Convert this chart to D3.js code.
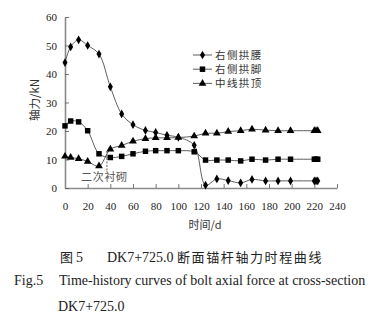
<!DOCTYPE html>
<html>
<head>
<meta charset="utf-8">
<script src="https://cdn.jsdelivr.net/npm/d3@7/dist/d3.min.js"></script>
<style>
  html, body { margin: 0; padding: 0; background: #fff; }
  svg { display: block; }
  .serif { font-family: "Liberation Serif", "DejaVu Serif", serif; }
  .cjk { font-family: "Noto Sans CJK SC", "Noto Sans", sans-serif; }
</style>
</head>
<body>
<svg id="chart" width="387" height="329"></svg>
<script>
// Monitoring days after excavation
const days = [0, 5, 12, 20, 30, 40, 50, 60, 71, 80, 90, 100, 114, 124, 134, 144, 155, 165, 177, 188, 199, 220, 221.5, 223];

// Bolt axial force (kN) at each monitoring point
const archWaist = [44, 49.5, 52, 50, 47, 35.5, 26, 22.2, 20.2, 19.5, 18.5, 17.8, 15, 1, 3.2, 2.6, 1.8, 3.0, 2.5, 2.5, 2.5, 2.5, 2.5, 2.5];
const archFoot  = [21.8, 23.5, 23.2, 20.1, 12, 10.7, 11.1, 12, 12.9, 13.1, 13.1, 13.1, 12.7, 9.8, 9.8, 9.8, 9.5, 10.1, 9.8, 10.1, 10.1, 10.1, 10.1, 10.1];
const archCrown = [11.1, 10.7, 10.3, 9.3, 7.7, 13.6, 14.9, 16.4, 17.3, 17.6, 17.6, 17.7, 18.2, 19.2, 19.2, 19.8, 20.1, 20.6, 20.3, 20.1, 20.1, 20.1, 20.1, 20.1];

const seriesNames = ["右侧拱腰", "右侧拱脚", "中线拱顶"];
const xTicks = [0, 20, 40, 60, 80, 100, 120, 140, 160, 180, 200, 220, 240];
const yTicks = [0, 10, 20, 30, 40, 50, 60];

const svg = d3.select("#chart");

const x = d3.scaleLinear().domain([0, 240]).range([65, 337]);
const y = d3.scaleLinear().domain([0, 60]).range([188, 17]);

// Axes with inward ticks
const axisColor = "#8a8a8a";
const serifFamily = '"Liberation Serif", "DejaVu Serif", serif';
const gx = svg.append("g").attr("transform", `translate(0,${y(0)})`)
  .call(d3.axisBottom(x).tickValues(xTicks).tickSizeInner(-4).tickSizeOuter(0).tickPadding(14));
const gy = svg.append("g").attr("transform", `translate(${x(0)},0)`)
  .call(d3.axisLeft(y).tickValues(yTicks).tickSizeInner(-4).tickSizeOuter(0).tickPadding(8));

[gx, gy].forEach(g => {
  g.attr("font-family", serifFamily).attr("font-size", 11);
  g.select(".domain").attr("stroke", axisColor).attr("stroke-width", 1.6);
  g.selectAll(".tick line").attr("stroke", "#555").attr("stroke-width", 0.8);
  g.selectAll(".tick text")
    .attr("font-family", serifFamily)
    .attr("font-size", 11)
    .attr("fill", "#222");
});

// Curves
const series = [
  { name: seriesNames[0], values: archWaist, marker: "diamond" },
  { name: seriesNames[1], values: archFoot, marker: "square" },
  { name: seriesNames[2], values: archCrown, marker: "triangle" }
];

const line = d3.line()
  .x((d, i) => x(days[i]))
  .y(d => y(d))
  .curve(d3.curveCatmullRom.alpha(0.5));

const symbolFor = {
  diamond: d3.symbol().type(d3.symbolDiamond).size(22),
  square: d3.symbol().type(d3.symbolSquare).size(30),
  triangle: d3.symbol().type(d3.symbolTriangle).size(26)
};

series.forEach(s => {
  svg.append("path")
    .datum(s.values)
    .attr("d", line)
    .attr("fill", "none")
    .attr("stroke", "#333")
    .attr("stroke-width", 0.8);

  svg.append("g").selectAll("path")
    .data(s.values)
    .join("path")
    .attr("transform", (d, i) => `translate(${x(days[i])},${y(d)})`)
    .attr("d", symbolFor[s.marker]())
    .attr("fill", "#000");
});

// Legend
const legend = svg.append("g");
series.forEach((s, i) => {
  const ly = 55 + i * 14.2;
  legend.append("line")
    .attr("x1", 193).attr("x2", 212).attr("y1", ly).attr("y2", ly)
    .attr("stroke", "#333").attr("stroke-width", 0.8);
  legend.append("path")
    .attr("transform", `translate(202.5,${ly})`)
    .attr("d", symbolFor[s.marker]())
    .attr("fill", "#000");
  legend.append("text")
    .attr("class", "cjk")
    .attr("x", 215).attr("y", ly + 3.8)
    .attr("font-size", 10.5)
    .attr("letter-spacing", 1.4)
    .attr("fill", "#333")
    .text(s.name);
});

// Secondary lining annotation
svg.append("line")
  .attr("x1", x(37)).attr("x2", x(37))
  .attr("y1", y(13)).attr("y2", y(6))
  .attr("stroke", "#333").attr("stroke-width", 0.8)
  .attr("stroke-dasharray", "2,1.5");
svg.append("text")
  .attr("class", "cjk")
  .attr("x", 81).attr("y", 181)
  .attr("font-size", 11)
  .attr("letter-spacing", 0.7)
  .attr("fill", "#555")
  .text("二次衬砌");

// Axis titles
svg.append("text")
  .attr("class", "cjk")
  .attr("transform", "translate(39,100) rotate(-90)")
  .attr("text-anchor", "middle")
  .attr("font-size", 11.5)
  .attr("fill", "#333")
  .text("轴力/kN");

svg.append("text")
  .attr("class", "cjk")
  .attr("x", 205).attr("y", 229)
  .attr("text-anchor", "middle")
  .attr("font-size", 11)
  .attr("fill", "#333")
  .text("时间/d");

// Figure caption
const cap1 = svg.append("text").attr("y", 262).attr("fill", "#222");
cap1.append("tspan").attr("class", "cjk").attr("x", 60).attr("font-size", 13).text("图");
cap1.append("tspan").attr("class", "serif").attr("x", 76).attr("font-size", 14).text("5");
cap1.append("tspan").attr("class", "serif").attr("x", 107).attr("font-size", 14).text("DK7+725.0");
cap1.append("tspan").attr("class", "cjk").attr("x", 177).attr("font-size", 13).attr("letter-spacing", 1.6).text("断面锚杆轴力时程曲线");

const cap2 = svg.append("text").attr("class", "serif").attr("y", 285).attr("font-size", 14).attr("fill", "#222");
cap2.append("tspan").attr("x", 14).text("Fig.5");
cap2.append("tspan").attr("x", 59).text("Time-history curves of bolt axial force at cross-section");

svg.append("text").attr("class", "serif")
  .attr("x", 58).attr("y", 311)
  .attr("font-size", 14).attr("fill", "#222")
  .text("DK7+725.0");
</script>
</body>
</html>
